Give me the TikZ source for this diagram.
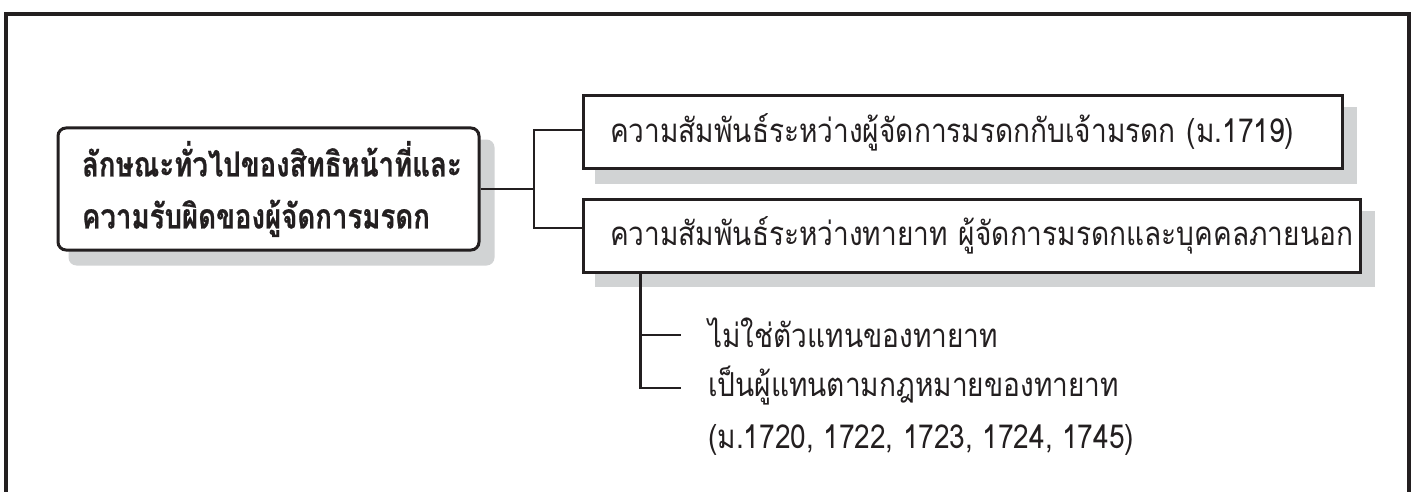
\documentclass[tikz,border=0pt]{standalone}
\usepackage{fontspec}
\newfontfamily\thaifont[Script=Thai]{Loma}
\newfontfamily\thaicond[Script=Thai,FakeStretch=0.85]{Loma}
\newfontfamily\thaibold[Script=Thai,FakeStretch=0.8,FakeBold=0.6]{Loma}
\usetikzlibrary{backgrounds}
\definecolor{shadowgray}{HTML}{D1D3D4}
\definecolor{ink}{HTML}{231F20}
\tikzset{
  frameline/.style={draw=ink, line width=4pt},
  conn/.style={draw=ink, line width=2.6pt},
  mainbox/.style={draw=ink, fill=white, line width=3pt, rounded corners=8pt,
    inner xsep=24pt, inner ysep=0pt, text width=373pt, align=left,
    minimum width=421pt, minimum height=122pt,
    font=\thaibold\bfseries\fontsize{34.5}{52}\selectfont, text=ink},
  relbox/.style={draw=ink, fill=white, line width=3pt,
    inner xsep=27pt, inner ysep=0pt, align=left,
    font=\thaicond\fontsize{33}{36}\selectfont, text=ink},
  subtext/.style={anchor=base west, inner sep=0pt,
    font=\thaicond\fontsize{33}{36}\selectfont, text=ink},
  shade/.style={fill=shadowgray},
}
\begin{document}
\begin{tikzpicture}[x=1pt, y=-1pt]
\useasboundingbox (0,0) rectangle (1415,492);
\clip (0,0) rectangle (1415,492);
% outer frame (open at the bottom edge of the picture)
\draw[frameline] (6,496) -- (6,14) -- (1409,14) -- (1409,496);

% main box
\node[mainbox] (main) at (268.5,189)
  {ลักษณะทั่วไปของสิทธิหน้าที่และ\\ความรับผิดของผู้จัดการมรดก};
% relation boxes
\node[relbox, minimum width=759pt, minimum height=72pt, text width=705pt] (b1) at (962.5,132)
  {\mbox{ความสัมพันธ์ระหว่างผู้จัดการมรดกกับเจ้ามรดก (ม.1719)}};
\node[relbox, minimum width=777pt, minimum height=73pt, text width=723pt] (b2) at (971.5,235.5)
  {\mbox{ความสัมพันธ์ระหว่างทายาท ผู้จัดการมรดกและบุคคลภายนอก}};

% shadows behind the boxes
\begin{scope}[on background layer]
  \fill[shade, rounded corners=8pt] ([xshift=12pt,yshift=-13pt]main.north west) rectangle ([xshift=14pt,yshift=-14pt]main.south east);
  \fill[shade] ([xshift=13pt,yshift=-13pt]b1.north west) rectangle ([xshift=13pt,yshift=-14pt]b1.south east);
  \fill[shade] ([xshift=13pt,yshift=-13pt]b2.north west) rectangle ([xshift=13pt,yshift=-13pt]b2.south east);
\end{scope}

% sub items
\node[subtext] (t1) at (708,347) {ไม่ใช่ตัวแทนของทายาท};
\node[subtext] (t2) at (708,396) {เป็นผู้แทนตามกฎหมายของทายาท};
\node[subtext] (t3) at (708,448) {(ม.1720, 1722, 1723, 1724, 1745)};

% connectors
\coordinate (j) at (534,189);
\draw[conn] (main.east) -- (j);
\draw[conn] ([yshift=2pt]b1.west) -| (j) |- ([yshift=7.5pt]b2.west);
\coordinate (v) at ([xshift=59pt]b2.south west);
\coordinate (e1) at (681,335);
\coordinate (e2) at (681,388);
\draw[conn] (v) |- (e2);
\draw[conn] (v |- e1) -- (e1);
\end{tikzpicture}
\end{document}
